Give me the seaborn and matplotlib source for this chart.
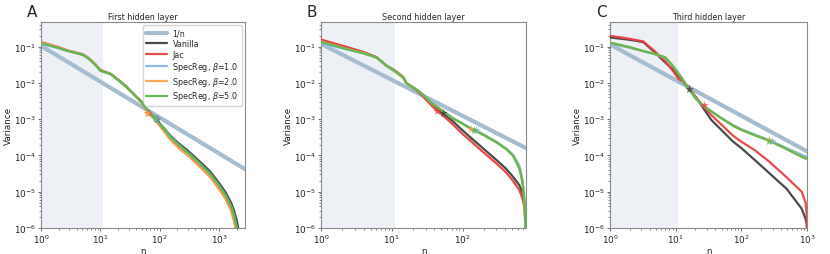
import numpy as np
import pandas as pd
import matplotlib
matplotlib.use("Agg")
import matplotlib.pyplot as plt
import seaborn as sns

# ---------------- data ----------------
series_names = ["Vanilla", "Jac", "SpecReg, $\\beta$=1.0", "SpecReg, $\\beta$=2.0", "SpecReg, $\\beta$=5.0"]
titles = ["First hidden layer", "Second hidden layer", "Third hidden layer"]
letters = ["A", "B", "C"]

# Panel A
A_n = [1, 2, 2.7, 4, 5, 6, 7, 8.5, 10, 15, 20, 28, 40, 50, 60, 85, 100, 150, 200, 300, 500, 700, 1000, 1300, 1600, 1800, 2000, 2200]
A_vanilla = [0.128, 0.094, 0.079, 0.067, 0.061, 0.051, 0.042, 0.031, 0.022, 0.0177, 0.0122, 0.0078, 0.0043, 0.0030, 0.0019, 0.00105, 0.00078, 0.00036, 0.00023, 0.000135, 6.3e-5, 3.7e-5, 1.75e-5, 9.5e-6, 5e-6, 3e-6, 1.6e-6, 7e-7]
A_jac = [0.135, 0.097, 0.080, 0.068, 0.062, 0.052, 0.042, 0.031, 0.023, 0.0178, 0.0122, 0.0077, 0.0042, 0.0029, 0.0018, 0.00095, 0.00068, 0.00029, 0.00018, 0.000103, 4.7e-5, 2.7e-5, 1.25e-5, 6.5e-6, 3.2e-6, 1.7e-6, 7e-7, 3e-7]
A_s1 = [0.120, 0.090, 0.077, 0.066, 0.060, 0.050, 0.041, 0.030, 0.022, 0.0175, 0.012, 0.0076, 0.0042, 0.0029, 0.0019, 0.0010, 0.00076, 0.00034, 0.00021, 0.00012, 5.6e-5, 3.2e-5, 1.5e-5, 8e-6, 4e-6, 2.2e-6, 1.0e-6, 4e-7]
A_s2 = [0.133, 0.096, 0.080, 0.067, 0.061, 0.051, 0.042, 0.031, 0.022, 0.0177, 0.0121, 0.0076, 0.0041, 0.0028, 0.0018, 0.00093, 0.00067, 0.00028, 0.00017, 0.0001, 4.5e-5, 2.6e-5, 1.2e-5, 6.2e-6, 3e-6, 1.5e-6, 6e-7, 3e-7]
A_s5 = [0.125, 0.092, 0.078, 0.066, 0.060, 0.050, 0.041, 0.030, 0.022, 0.0175, 0.012, 0.0076, 0.0042, 0.0029, 0.0019, 0.0010, 0.00075, 0.00033, 0.00021, 0.00012, 5.5e-5, 3.2e-5, 1.5e-5, 8e-6, 4e-6, 2.2e-6, 1.0e-6, 4e-7]
A_star_n = [90, 64, 88, 62, 85]
A_star_v = [1.0e-3, 1.45e-3, 1.0e-3, 1.45e-3, 1.05e-3]
A_ref_n = [1, 2750]
A_ref_v = [0.106, 4.2e-5]

# Panel B
B_n = [1, 2.3, 4, 6.1, 8.4, 11, 14.5, 16, 20, 24.7, 38, 52, 73, 100, 130, 174, 300, 411, 513, 634, 700, 747, 770, 784]
B_vanilla = [0.150, 0.096, 0.070, 0.051, 0.030, 0.022, 0.0144, 0.0100, 0.0075, 0.0055, 0.0024, 0.0015, 0.00087, 0.00049, 0.00031, 0.00019, 7.5e-5, 4.3e-5, 2.6e-5, 1.5e-5, 9e-6, 5e-6, 1.5e-6, 1e-7]
B_jac = [0.158, 0.098, 0.071, 0.051, 0.030, 0.022, 0.0146, 0.0100, 0.0074, 0.0053, 0.0022, 0.0013, 0.00071, 0.00039, 0.00025, 0.00015, 6e-5, 3.4e-5, 2e-5, 1.1e-5, 6.5e-6, 3.5e-6, 1e-6, 1e-7]
B_s1 = [0.125, 0.084, 0.066, 0.050, 0.030, 0.021, 0.0140, 0.0100, 0.0076, 0.0058, 0.0027, 0.0017, 0.00107, 0.00077, 0.00057, 0.00044, 0.00024, 0.000158, 0.000106, 5.2e-5, 2.2e-5, 7e-6, 1.5e-6, 1e-7]
B_s2 = [0.140, 0.088, 0.067, 0.050, 0.030, 0.021, 0.0140, 0.0100, 0.0075, 0.0057, 0.0026, 0.0017, 0.00104, 0.00075, 0.00055, 0.00042, 0.00023, 0.000150, 0.000100, 4.5e-5, 1.8e-5, 5e-6, 1e-6, 1e-7]
B_s5 = [0.135, 0.086, 0.065, 0.050, 0.030, 0.021, 0.0140, 0.0100, 0.0075, 0.0057, 0.0026, 0.0017, 0.00105, 0.00075, 0.00055, 0.00042, 0.00023, 0.000150, 0.000100, 4.3e-5, 1.8e-5, 5e-6, 1e-6, 1e-7]
B_star_n = [53, 43, 155, 133, 145]
B_star_v = [1.5e-3, 1.7e-3, 5.0e-4, 5.4e-4, 5.2e-4]
B_ref_n = [1, 784]
B_ref_v = [0.12, 1.6e-4]

# Panel C
C_n = [1, 2, 3.2, 4.8, 6.9, 9, 11, 13, 16, 20, 26, 35, 50, 75, 100, 160, 260, 490, 830, 950, 990, 1000]
C_vanilla = [0.180, 0.155, 0.135, 0.070, 0.037, 0.024, 0.016, 0.011, 0.0068, 0.0042, 0.0021, 0.00095, 0.00050, 0.00024, 0.000160, 7.5e-5, 3.4e-5, 1.2e-5, 3.4e-6, 1.8e-6, 1.3e-6, 1.0e-6]
C_jac = [0.200, 0.165, 0.140, 0.075, 0.040, 0.022, 0.013, 0.011, 0.0075, 0.0042, 0.0024, 0.0013, 0.0007, 0.00035, 0.00024, 0.00014, 7e-5, 2.5e-5, 1.0e-5, 5e-6, 2.5e-6, 1e-7]
C_s1 = [0.120, 0.093, 0.075, 0.062, 0.050, 0.030, 0.019, 0.012, 0.0070, 0.0039, 0.0024, 0.0016, 0.00108, 0.00069, 0.00053, 0.00038, 0.00027, 0.00016, 0.000105, 9.5e-5, 9.2e-5, 9.0e-5]
C_s2 = [0.130, 0.097, 0.076, 0.063, 0.051, 0.030, 0.018, 0.012, 0.0068, 0.0038, 0.0024, 0.00165, 0.00105, 0.00066, 0.00051, 0.00036, 0.00026, 0.00015, 9.2e-5, 8.3e-5, 8.1e-5, 8.0e-5]
C_s5 = [0.130, 0.097, 0.076, 0.063, 0.051, 0.030, 0.018, 0.012, 0.0068, 0.0038, 0.0024, 0.00165, 0.00105, 0.00066, 0.00051, 0.00036, 0.00026, 0.00015, 9.2e-5, 8.3e-5, 8.1e-5, 8.0e-5]
C_star_n = [16, 27, 290, 260, 265]
C_star_v = [7.0e-3, 2.4e-3, 2.55e-4, 2.6e-4, 2.55e-4]
C_ref_n = [1, 1000]
C_ref_v = [0.115, 1.3e-4]

xlims = [(1, 2750), (1, 784), (1, 1000)]
shade_end = 11

# ---------------- style ----------------
colors = ["#404040", "#e8403f", "#85b6e8", "#ffa04f", "#58bb4f"]
ref_color = "#a6bdd0"
shade_color = "#edf1f5"
fs = 5.8
tfs = 6.4
lfs = 6.3

sns.set_theme(style="ticks")
plt.rcParams["font.family"] = ["DejaVu Sans"]
plt.rcParams["axes.edgecolor"] = "#8a8a8a"
plt.rcParams["xtick.color"] = "#555555"
plt.rcParams["ytick.color"] = "#555555"
plt.rcParams["xtick.labelcolor"] = "#222222"
plt.rcParams["ytick.labelcolor"] = "#222222"

fig = plt.figure(figsize=(8.3, 2.55), dpi=100)
lefts = [41 / 830, 321 / 830, 610 / 830]
widths = [204 / 830, 205 / 830, 197 / 830]
bottom = 1 - 229 / 255
height = (229 - 23) / 255

panels = [
    (A_n, [A_vanilla, A_jac, A_s1, A_s2, A_s5], A_star_n, A_star_v, A_ref_n, A_ref_v),
    (B_n, [B_vanilla, B_jac, B_s1, B_s2, B_s5], B_star_n, B_star_v, B_ref_n, B_ref_v),
    (C_n, [C_vanilla, C_jac, C_s1, C_s2, C_s5], C_star_n, C_star_v, C_ref_n, C_ref_v),
]

for i, (ns, vals, sn, sv, rn, rv) in enumerate(panels):
    ax = fig.add_axes([lefts[i], bottom, widths[i], height])
    ax.set_xscale("log")
    ax.set_yscale("log")
    ax.axvspan(1, shade_end, color=shade_color, lw=0, zorder=0)
    ref_df = pd.DataFrame({"n": rn, "v": rv})
    sns.lineplot(data=ref_df, x="n", y="v", ax=ax, color=ref_color, lw=3, label="1/n", zorder=2)
    for k, (name, v) in enumerate(zip(series_names, vals)):
        df = pd.DataFrame({"n": ns, "v": v})
        sns.lineplot(data=df, x="n", y="v", ax=ax, color=colors[k], lw=1.6, alpha=0.95,
                     label=name, sort=False, estimator=None, zorder=3 + k)
    for k in range(5):
        ax.scatter([sn[k]], [sv[k]], marker="*", s=40, color=colors[k], alpha=0.8, zorder=10, lw=0)
    ax.set_xlim(*xlims[i])
    ax.set_ylim(1e-6, 0.48)
    ax.set_xlabel("n", fontsize=lfs, labelpad=0.5)
    ax.set_ylabel("Variance", fontsize=lfs, labelpad=1)
    ax.set_title(titles[i], fontsize=fs, pad=2.5)
    ax.tick_params(axis="both", which="major", labelsize=tfs, length=2.5, width=0.6, pad=1)
    ax.tick_params(axis="both", which="minor", length=1.5, width=0.5)
    for s in ax.spines.values():
        s.set_linewidth(0.8)
    ax.text(-0.045, 1.015, letters[i], transform=ax.transAxes, fontsize=11, ha="center", va="bottom")
    if i == 0:
        leg = ax.legend(loc="upper right", fontsize=fs, frameon=True, handlelength=2.6,
                        borderpad=0.4, labelspacing=0.2, handletextpad=0.7, borderaxespad=0.4)
        leg.get_frame().set_edgecolor("#cccccc")
    else:
        if ax.get_legend():
            ax.get_legend().remove()

fig.savefig("out.png", dpi=100)
